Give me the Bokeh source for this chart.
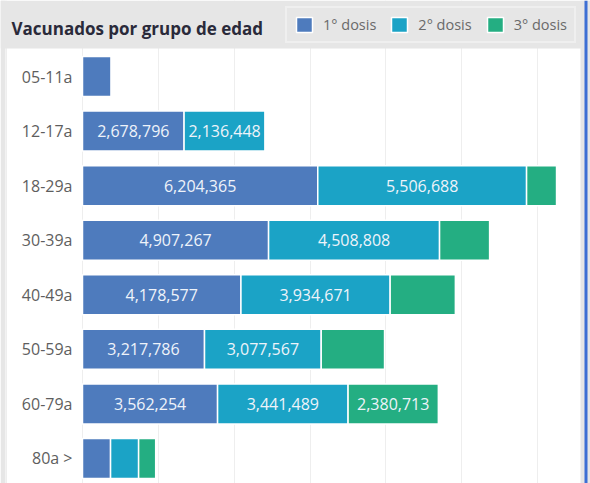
from bokeh.plotting import figure
from bokeh.models import (ColumnDataSource, Range1d, SingleIntervalTicker,
                          Legend, LegendItem, BoxAnnotation, Label)
from bokeh.embed import file_html
from bokeh.resources import INLINE
from bokeh.core.properties import value

# ---- data ----
groups = ["05-11a", "12-17a", "18-29a", "30-39a", "40-49a", "50-59a", "60-79a", "80a >"]
dosis1 = [760000, 2678796, 6204365, 4907267, 4178577, 3217786, 3562254, 740000]
dosis2 = [0, 2136448, 5506688, 4508808, 3934671, 3077567, 3441489, 740000]
dosis3 = [0, 0, 790000, 1320000, 1720000, 1670000, 2380713, 450000]
series = ["1° dosis", "2° dosis", "3° dosis"]
colors = ["#4E7BBD", "#1BA3C6", "#24AE82"]
label_min = 2000000

# ---- layout constants (pixels) ----
W, H = 590, 483
ZERO_PX = 82          # pixel of x = 0
PX_PER_UNIT_X = 37.92 / 1e6
ROW0_PX = 76          # centre of first row
ROW_PX = 54.57        # row spacing
GREY = "#e6e6e6"
FONT = "Open Sans"


def xd(px):
    return (px - ZERO_PX) / PX_PER_UNIT_X


def yd(px):
    return (px - ROW0_PX) / ROW_PX


ypos = list(range(len(groups)))
src = ColumnDataSource(dict(y=ypos, d1=dosis1, d2=dosis2, d3=dosis3))

p = figure(width=W, height=H,
           x_range=Range1d(xd(0), xd(W)),
           y_range=Range1d(yd(H), yd(0)),
           output_backend="svg", toolbar_location=None, title_location=None,
           min_border=0,
           background_fill_color="white", border_fill_color=GREY,
           outline_line_color=None)
p.axis.visible = False
p.ygrid.visible = False
p.xgrid.ticker = SingleIntervalTicker(interval=2000000)
p.xgrid.grid_line_color = "#eeeeee"

rs = p.hbar_stack(["d1", "d2", "d3"], y="y", height=40 / ROW_PX, color=colors,
                  source=src, line_color="white", line_width=1.5)

# value labels
lx, ly, lt = [], [], []
for i in range(len(groups)):
    left = 0
    for v in (dosis1[i], dosis2[i], dosis3[i]):
        if v >= label_min:
            lx.append(left + v / 2)
            ly.append(ypos[i])
            lt.append(f"{v:,}")
        left += v
p.text(x=lx, y=ly, text=lt, text_align="center", text_baseline="middle",
       text_color="#eef3fa", text_font=value(FONT), text_font_size="16px")

# category labels
p.text(x=[0] * len(groups), y=ypos, text=groups, x_offset=-10,
       text_align="right", text_baseline="middle", text_color="#5e5e5e",
       text_font=value(FONT), text_font_size="16px")

# panel decorations: grey header and side strips, blue right edge
p.add_layout(BoxAnnotation(bottom=yd(48), fill_color=GREY, fill_alpha=1,
                           line_color=None))
p.add_layout(BoxAnnotation(right=xd(5), fill_color=GREY, fill_alpha=1,
                           line_color=None))
p.add_layout(BoxAnnotation(left=xd(580), fill_color=GREY, fill_alpha=1,
                           line_color=None))
p.add_layout(BoxAnnotation(left=xd(584), right=xd(587), fill_color="#3d6fd4",
                           fill_alpha=1, line_color=None))

legend = Legend(items=[LegendItem(label=s, renderers=[r]) for s, r in zip(series, rs)],
                orientation="horizontal", location=(285, H - 43),
                label_text_font=FONT, label_text_font_size="14.5px",
                label_text_color="#6a6a6a", glyph_width=20, glyph_height=19,
                label_standoff=9, spacing=13, padding=7, margin=0,
                background_fill_color=GREY, background_fill_alpha=1,
                border_line_color="#f7f7f7", border_line_width=2)
p.add_layout(legend)

p.add_layout(Label(x=xd(11), y=yd(28), text="Vacunados por grupo de edad",
                   text_font=FONT, text_font_size="17px", text_font_style="bold",
                   text_color="#2a2a3a", text_baseline="alphabetic"))

open("out.html", "w").write(file_html(p, INLINE))
